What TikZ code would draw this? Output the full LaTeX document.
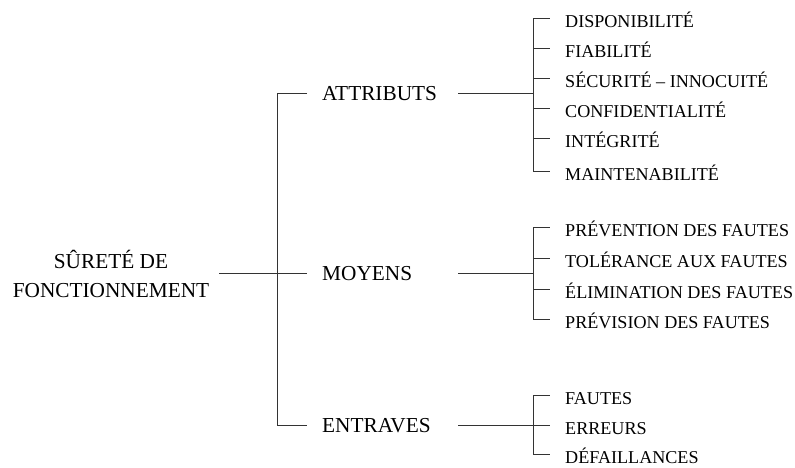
\documentclass[tikz,border=0pt]{standalone}
\usepackage{fontspec}
\setmainfont{Liberation Serif}
\begin{document}
\begin{tikzpicture}[x=1pt,y=-1pt,
  wire/.style={draw=black!80,line width=0.9pt},
  mainlbl/.style={anchor=west,inner sep=0pt,font=\fontsize{21.3}{29}\selectfont,
    text height=14.1pt,text depth=0pt},
  leaflbl/.style={anchor=west,inner sep=0pt,font=\fontsize{18.1}{21}\selectfont,
    text height=12pt,text depth=0pt}]
\useasboundingbox (0,0) rectangle (795,467);

% column positions
\coordinate (tk) at (277,273);   % main trunk
\coordinate (lx) at (458,0);     % start of the links to the brackets
\coordinate (bx) at (533,0);     % brackets
\coordinate (tx) at (550,0);     % end of the ticks

% root
\node[inner sep=0pt,align=center,font=\fontsize{21.3}{29}\selectfont] (root) at (111,274)
  {SÛRETÉ DE\\FONCTIONNEMENT};

% first level
\node[mainlbl] (attr) at (322,93)  {ATTRIBUTS};
\node[mainlbl] (moy)  at (322,273) {MOYENS};
\node[mainlbl] (ent)  at (322,425) {ENTRAVES};

% leaves
\node[leaflbl] (a1) at (565,21)  {DISPONIBILITÉ};
\node[leaflbl] (a2) at (565,51)  {FIABILITÉ};
\node[leaflbl] (a3) at (565,81)  {SÉCURITÉ – INNOCUITÉ};
\node[leaflbl] (a4) at (565,111) {CONFIDENTIALITÉ};
\node[leaflbl] (a5) at (565,141) {INTÉGRITÉ};
\node[leaflbl] (a6) at (565,174) {MAINTENABILITÉ};

\node[leaflbl] (m1) at (565,230) {PRÉVENTION DES FAUTES};
\node[leaflbl] (m2) at (565,261) {TOLÉRANCE AUX FAUTES};
\node[leaflbl] (m3) at (565,292) {ÉLIMINATION DES FAUTES};
\node[leaflbl] (m4) at (565,322) {PRÉVISION DES FAUTES};

\node[leaflbl] (e1) at (565,398) {FAUTES};
\node[leaflbl] (e2) at (565,428) {ERREURS};
\node[leaflbl] (e3) at (565,457) {DÉFAILLANCES};

% trunk
\draw[wire] ([xshift=10pt]root.east |- tk) -- ([xshift=-15pt]moy.west);
\draw[wire] ([xshift=-15pt]attr.west) -- (tk |- attr.west) -- (tk |- ent.west)
  -- ([xshift=-15pt]ent.west);

% links to the brackets
\draw[wire] (attr.west -| lx) -- (attr.west -| bx);
\draw[wire] (moy.west -| lx) -- (moy.west -| bx);
\draw[wire] (ent.west -| lx) -- (ent.west -| bx);

% brackets with ticks
\foreach \f/\l/\g in {a1/a6/{a1,a2,a3,a4,a5,a6},m1/m4/{m1,m2,m3,m4},e1/e3/{e1,e2,e3}}{
  \draw[wire] ([yshift=3pt]\f.west -| bx) -- ([yshift=3pt]\l.west -| bx);
  \foreach \n in \g
    \draw[wire] ([yshift=3pt]\n.west -| bx) -- ([yshift=3pt]\n.west -| tx);
}
\end{tikzpicture}
\end{document}
